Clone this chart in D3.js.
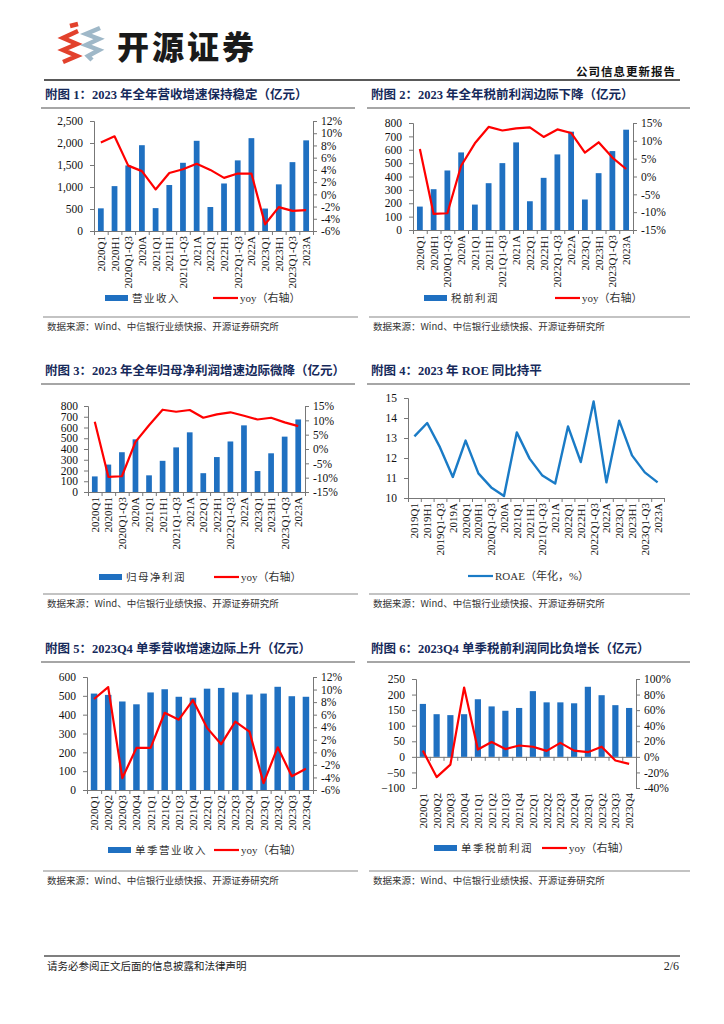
<!DOCTYPE html>
<html><head><meta charset="utf-8">
<script src="https://cdn.jsdelivr.net/npm/d3@7"></script>
<style>body{margin:0;background:#fff}svg{display:block}</style>
</head><body>
<svg id="c" width="724" height="1024"></svg>
<script>
// ---------- data ----------
const catsAnnual = ["2020Q1","2020H1","2020Q1-Q3","2020A","2021Q1","2021H1","2021Q1-Q3","2021A","2022Q1","2022H1","2022Q1-Q3","2022A","2023Q1","2023H1","2023Q1-Q3","2023A"];
const revenue = [515,1020,1490,1950,520,1045,1550,2050,545,1080,1605,2110,510,1060,1565,2060];
const revenueYoy = [8.5,9.5,4.7,3.8,0.8,3.5,4.1,5.0,4.0,2.7,3.4,3.4,-4.9,-2.1,-2.7,-2.6];
const pretax = [175,305,445,580,190,350,500,655,215,390,565,735,228,425,590,750];
const pretaxYoy = [7.7,-10.5,-10.3,3.0,9.3,13.9,12.9,13.5,13.8,11.1,13.2,12.2,6.7,9.6,5.3,2.1];
const netProfit = [145,255,370,490,155,290,415,555,175,325,470,620,195,360,515,675];
const netProfitYoy = [9.5,-9.7,-9.5,2.5,8.3,13.7,13.0,13.6,10.9,12.1,12.8,11.6,10.3,10.9,9.3,8.0];
const catsRoe = ["2019Q1","2019H1","2019Q1-Q3","2019A","2020Q1","2020H1","2020Q1-Q3","2020A","2021Q1","2021H1","2021Q1-Q3","2021A","2022Q1","2022H1","2022Q1-Q3","2022A","2023Q1","2023H1","2023Q1-Q3","2023A"];
const roae = [13.08,13.75,12.53,11.05,12.87,11.23,10.53,10.1,13.28,11.97,11.12,10.72,13.58,11.8,14.83,10.78,13.87,12.13,11.28,10.78];
const catsQuarter = ["2020Q1","2020Q2","2020Q3","2020Q4","2021Q1","2021Q2","2021Q3","2021Q4","2022Q1","2022Q2","2022Q3","2022Q4","2023Q1","2023Q2","2023Q3","2023Q4"];
const qRevenue = [512,505,470,455,518,535,495,490,538,542,518,507,512,548,498,495];
const qRevenueYoy = [8.5,10.4,-4.1,0.7,0.7,6.3,5.2,8.3,3.9,1.3,4.9,3.3,-4.9,0.8,-3.8,-2.6];
const qPretax = [170,137,134,137,185,162,148,157,211,175,175,172,225,198,166,157];
const qPretaxYoy = [8,-26,-10,89,9.4,19,10,14.6,13,7.7,18,8,6,13,-4.7,-9];

const ticksRev = [0,500,1000,1500,2000,2500], ticksRevYoy = [-6,-4,-2,0,2,4,6,8,10,12];
const ticks800 = [0,100,200,300,400,500,600,700,800], ticksYoy15 = [-15,-10,-5,0,5,10,15];
const ticksRoe = [10,11,12,13,14,15];
const ticksQRev = [0,100,200,300,400,500,600];
const ticksQPre = [-100,-50,0,50,100,150,200,250], ticksQPreYoy = [-40,-20,0,20,40,60,80,100];

const titles = [
 "附图 1：2023 年全年营收增速保持稳定（亿元）",
 "附图 2：2023 年全年税前利润边际下降（亿元）",
 "附图 3：2023 年全年归母净利润增速边际微降（亿元）",
 "附图 4：2023 年 ROE 同比持平",
 "附图 5：2023Q4 单季营收增速边际上升（亿元）",
 "附图 6：2023Q4 单季税前利润同比负增长（亿元）"];
const sourceText = "数据来源：Wind、中信银行业绩快报、开源证券研究所";

// ---------- drawing ----------
const svg = d3.select("#c");
const SERIF = "'Liberation Serif','Times New Roman','Noto Sans CJK SC',serif";
const BLUE = "#1f70c1", RED = "#ff0000", NAVY = "#15295a", AX = "#777";

// header logo
const logo = svg.append("g").attr("fill","none").attr("stroke-width",4.5).attr("stroke-linejoin","miter");
logo.append("polyline").attr("points","70,26 78,24").attr("stroke","#e2412c");
logo.append("polyline").attr("points","78,31 63,38 77,44 63,50 77,56 63,62").attr("stroke","#e2412c");
logo.append("polyline").attr("points","100,28 86,34 99,39 86,45 99,50 88,56 92,60").attr("stroke","#9fb8c8");
svg.append("text").attr("x",117).attr("y",59).attr("font-family","'Noto Sans CJK SC',sans-serif").attr("font-weight",900)
  .attr("font-size",32).attr("fill","#1a1a1a").attr("letter-spacing",3).text("开源证券");
svg.append("text").attr("x",676).attr("y",76).attr("text-anchor","end").attr("font-family","'Noto Sans CJK SC',sans-serif")
  .attr("font-weight",700).attr("font-size",11.5).attr("fill","#111").attr("letter-spacing",1).text("公司信息更新报告");
svg.append("line").attr("x1",44).attr("x2",680).attr("y1",80).attr("y2",80).attr("stroke","#222").attr("stroke-width",1.5);

// footer
svg.append("line").attr("x1",44).attr("x2",680).attr("y1",956).attr("y2",956).attr("stroke","#555").attr("stroke-width",1.5);
svg.append("text").attr("x",47).attr("y",970).attr("font-family","'Noto Sans CJK SC',sans-serif").attr("font-size",10.5).attr("fill","#222").text("请务必参阅正文后面的信息披露和法律声明");
svg.append("text").attr("x",679).attr("y",970).attr("text-anchor","end").attr("font-family",SERIF).attr("font-size",12).attr("fill","#222").text("2/6");

function titleBlock(x, xEnd, y, t){
  svg.append("text").attr("x",x).attr("y",y).attr("font-family",SERIF).attr("font-weight",700)
    .attr("font-size",12.5).attr("fill",NAVY).text(t);
  svg.append("line").attr("x1",x-4).attr("x2",xEnd).attr("y1",y+9).attr("y2",y+9).attr("stroke","#888").attr("stroke-width",1.5);
}
function sourceBlock(x, xEnd, y){
  svg.append("line").attr("x1",x-4).attr("x2",xEnd).attr("y1",y-9).attr("y2",y-9).attr("stroke","#888").attr("stroke-width",1.2);
  svg.append("text").attr("x",x).attr("y",y+4).attr("font-family","'Noto Sans CJK SC',sans-serif").attr("font-size",9.5).attr("fill","#333").text(sourceText);
}

function styleAxis(g){
  g.selectAll("path.domain").attr("stroke",AX);
  g.selectAll(".tick line").attr("stroke",AX);
  g.selectAll(".tick text").attr("font-family",SERIF).attr("font-size",11.5).attr("fill","#111");
}

function drawChart(o){
  const g = svg.append("g");
  const n = o.cats.length;
  const xb = d3.scaleBand().domain(o.cats).range([o.x0,o.x1]).paddingInner(0).paddingOuter(0);
  const xl = d3.scaleLinear().domain([0,n]).range([o.x0,o.x1]);
  const yL = d3.scaleLinear().domain(o.lDom).range([o.y1,o.y0]);
  const la = g.append("g").attr("transform",`translate(${o.x0},0)`)
    .call(d3.axisLeft(yL).tickValues(o.lTicks).tickFormat(o.lFmt||d3.format(",")).tickSizeOuter(0).tickSize(4).tickPadding(o.lPad||7));
  styleAxis(la);
  let yR = null;
  if (o.rDom){
    yR = d3.scaleLinear().domain(o.rDom).range([o.y1,o.y0]);
    const ra = g.append("g").attr("transform",`translate(${o.x1},0)`)
      .call(d3.axisRight(yR).tickValues(o.rTicks).tickFormat(d=>d+"%").tickSizeOuter(0).tickSize(4).tickPadding(4));
    styleAxis(ra);
  }
  const zeroY = yL(Math.max(o.lDom[0],0));
  const xa = g.append("g").attr("transform",`translate(0,${zeroY})`)
    .call(d3.axisBottom(xl).tickValues(d3.range(n+1)).tickFormat("").tickSizeOuter(0).tickSize(4));
  styleAxis(xa);
  g.selectAll("text.cat").data(o.cats).join("text").attr("class","cat")
    .attr("transform",d=>`translate(${xb(d)+xb.bandwidth()/2+4},${o.y1+5}) rotate(-90)`)
    .attr("text-anchor","end").attr("font-family",SERIF).attr("font-size",11).attr("fill","#111").text(d=>d);
  if (o.bars){
    const bw = xb.bandwidth()*(o.barFrac||0.42);
    g.selectAll("rect.bar").data(o.bars).join("rect").attr("class","bar")
      .attr("x",(d,i)=>xb(o.cats[i])+(xb.bandwidth()-bw)/2).attr("width",bw)
      .attr("y",d=>yL(Math.max(d,0))).attr("height",d=>Math.abs(yL(d)-yL(0))).attr("fill",BLUE);
  }
  if (o.line){
    const ys = o.lineOnLeft ? yL : yR;
    const ln = d3.line().x((d,i)=>xb(o.cats[i])+xb.bandwidth()/2).y(d=>ys(d));
    g.append("path").datum(o.line).attr("d",ln).attr("fill","none").attr("stroke",o.lineColor||RED)
      .attr("stroke-width",o.lineWidth||2.2).attr("stroke-linejoin","round");
  }
  const lf = "'Noto Sans CJK SC',sans-serif";
  if (o.barLabel){
    g.append("rect").attr("x",o.legBarX).attr("y",o.legY-3).attr("width",23).attr("height",6).attr("fill",BLUE);
    g.append("text").attr("x",o.legBarX+27).attr("y",o.legY+4).attr("font-family",lf).attr("font-size",10.5).attr("letter-spacing",1.5).attr("fill","#333").text(o.barLabel);
  }
  g.append("line").attr("x1",o.legLineX).attr("x2",o.legLineX+25).attr("y1",o.legY).attr("y2",o.legY).attr("stroke",o.lineColor||RED).attr("stroke-width",2.2);
  g.append("text").attr("x",o.legLineX+27).attr("y",o.legY+4).attr("font-family",SERIF).attr("font-size",11).attr("fill","#333").text(o.lineLabel);
}

// Row 1
titleBlock(45,355,99,titles[0]);
drawChart({x0:94,x1:313,y0:121,y1:231,cats:catsAnnual,bars:revenue,line:revenueYoy,
  lDom:[0,2500],lTicks:ticksRev,rDom:[-6,12],rTicks:ticksRevYoy,
  barLabel:"营业收入",lineLabel:"yoy（右轴）",legY:298,legBarX:105,legLineX:213});
sourceBlock(47,358,326);

titleBlock(371,690,99,titles[1]);
drawChart({x0:413,x1:633,y0:123,y1:230,cats:catsAnnual,bars:pretax,line:pretaxYoy,
  lDom:[0,800],lTicks:ticks800,rDom:[-15,15],rTicks:ticksYoy15,
  barLabel:"税前利润",lineLabel:"yoy（右轴）",legY:298,legBarX:424,legLineX:555});
sourceBlock(373,690,326);

// Row 2
titleBlock(45,355,375,titles[2]);
drawChart({x0:88,x1:305,y0:406,y1:492,cats:catsAnnual,bars:netProfit,line:netProfitYoy,
  lDom:[0,800],lTicks:ticks800,rDom:[-15,15],rTicks:ticksYoy15,lPad:6,
  barLabel:"归母净利润",lineLabel:"yoy（右轴）",legY:577,legBarX:99,legLineX:214});
sourceBlock(47,358,603);

titleBlock(371,690,375,titles[3]);
drawChart({x0:408,x1:664,y0:398,y1:498,cats:catsRoe,line:roae,lineOnLeft:true,lineColor:"#1a7bc6",lineWidth:2.4,
  lDom:[10,15],lTicks:ticksRoe,lFmt:d3.format("d"),
  lineLabel:"ROAE（年化，%）",legY:576,legLineX:468});
sourceBlock(373,690,603);

// Row 3
titleBlock(45,355,653,titles[4]);
drawChart({x0:87,x1:313,y0:677,y1:790,cats:catsQuarter,bars:qRevenue,line:qRevenueYoy,barFrac:0.46,
  lDom:[0,600],lTicks:ticksQRev,rDom:[-6,12],rTicks:ticksRevYoy,
  barLabel:"单季营业收入",lineLabel:"yoy（右轴）",legY:850,legBarX:108,legLineX:214});
sourceBlock(47,358,880);

titleBlock(371,690,653,titles[5]);
drawChart({x0:416,x1:636,y0:679,y1:788,cats:catsQuarter,bars:qPretax,line:qPretaxYoy,barFrac:0.45,
  lDom:[-100,250],lTicks:ticksQPre,rDom:[-40,100],rTicks:ticksQPreYoy,
  barLabel:"单季税前利润",lineLabel:"yoy（右轴）",legY:848,legBarX:434,legLineX:542});
sourceBlock(373,690,880);
</script>
</body></html>
